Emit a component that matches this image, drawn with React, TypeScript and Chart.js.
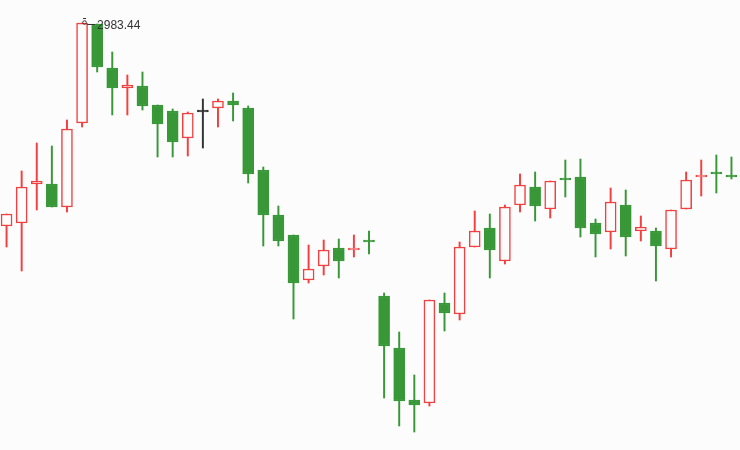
import React, { useEffect, useRef } from "react";
import { Chart, registerables } from "chart.js";

Chart.register(...registerables);

// OHLC values per trading day
const opens = [
  2821.04, 2823.44, 2854.64, 2854.64, 2836.24, 2903.44, 2982.64, 2947.44, 2931.44, 2933.04,
  2917.84, 2913.04, 2891.44, 2912.24, 2915.44, 2921.04, 2915.44, 2865.84, 2829.84, 2813.84,
  2777.84, 2789.04, 2803.44, 2801.84, 2808.34, 2765.04, 2723.44, 2681.84, 2679.44, 2759.44,
  2750.64, 2804.24, 2819.44, 2793.04, 2837.84, 2852.24, 2834.64, 2857.94, 2860.24, 2823.44,
  2816.24, 2837.84, 2817.04, 2817.04, 2802.64, 2834.64, 2860.24, 2862.74, 2860.34,
];
const closes = [
  2830.64, 2852.24, 2857.04, 2836.24, 2898.64, 2983.44, 2948.24, 2931.44, 2933.84, 2917.04,
  2902.64, 2888.24, 2911.44, 2912.24, 2921.04, 2917.84, 2862.64, 2829.84, 2809.04, 2775.44,
  2786.64, 2801.84, 2793.04, 2801.94, 2808.24, 2725.04, 2681.04, 2677.84, 2761.84, 2751.44,
  2804.24, 2817.04, 2801.84, 2836.24, 2853.84, 2837.04, 2857.04, 2857.84, 2819.44, 2814.64,
  2840.24, 2812.24, 2820.24, 2805.04, 2833.84, 2857.84, 2860.34, 2862.64, 2860.24,
];
const lows = [
  2804.24, 2785.04, 2833.84, 2836.24, 2832.24, 2900.24, 2944.24, 2909.84, 2909.84, 2913.84,
  2876.24, 2876.24, 2877.04, 2883.44, 2900.24, 2905.04, 2855.44, 2805.04, 2805.04, 2746.64,
  2775.44, 2781.84, 2779.44, 2796.24, 2798.64, 2683.44, 2661.04, 2656.24, 2677.04, 2737.04,
  2745.84, 2804.24, 2779.44, 2790.64, 2832.24, 2825.04, 2827.44, 2844.24, 2812.24, 2796.24,
  2802.64, 2797.04, 2809.04, 2777.04, 2796.24, 2834.64, 2845.04, 2847.44, 2858.64,
];
const highs = [
  2830.64, 2865.04, 2887.44, 2885.04, 2905.84, 2983.44, 2982.64, 2960.24, 2941.84, 2944.24,
  2917.84, 2914.64, 2912.24, 2922.64, 2922.64, 2927.44, 2917.04, 2868.24, 2837.04, 2813.84,
  2805.84, 2809.84, 2810.64, 2813.84, 2817.04, 2767.44, 2736.24, 2701.84, 2761.84, 2767.44,
  2808.24, 2833.04, 2830.64, 2837.84, 2862.64, 2864.24, 2857.04, 2873.84, 2874.64, 2826.64,
  2851.44, 2849.84, 2829.04, 2819.44, 2833.84, 2864.24, 2873.84, 2877.84, 2876.24,
];
const categories = opens.map((_, i) => "D" + (i + 1));

const Y_MIN = 2641.84;
const Y_MAX = 3001.84;

const UP = "#f23f3f";
const DOWN = "#389838";
const FLAT = "#333333";
const BG = "#fcfcfc";

function dir(i: number) {
  return closes[i] > opens[i] ? 1 : closes[i] < opens[i] ? -1 : 0;
}
function lineColor(i: number) {
  const d = dir(i);
  return d > 0 ? UP : d < 0 ? DOWN : FLAT;
}
function bodyFill(i: number) {
  const d = dir(i);
  return d > 0 ? BG : d < 0 ? DOWN : FLAT;
}

const maxLabelPlugin = {
  id: "maxLabel",
  afterDatasetsDraw(chart: any) {
    let idx = 0;
    highs.forEach((h, i) => {
      if (h > highs[idx]) idx = i;
    });
    const x = chart.scales.x.getPixelForValue(idx);
    const y = chart.scales.y.getPixelForValue(highs[idx]);
    const ctx = chart.ctx;
    ctx.save();
    ctx.strokeStyle = "#333";
    ctx.lineWidth = 1;
    ctx.beginPath();
    ctx.arc(x + 2.5, y - 0.5, 1.8, 0, Math.PI * 2);
    ctx.moveTo(x + 1, y - 4.5);
    ctx.lineTo(x + 4, y - 4.5);
    ctx.moveTo(x + 5, y + 1.5);
    ctx.lineTo(x + 13, y + 1.5);
    ctx.stroke();
    ctx.fillStyle = "#333";
    ctx.font = "12px 'Liberation Sans', Arial, sans-serif";
    ctx.textAlign = "left";
    ctx.textBaseline = "middle";
    ctx.fillText(highs[idx].toFixed(2), x + 15, y + 2.5);
    ctx.restore();
  },
};

export default function App() {
  const ref = useRef<HTMLCanvasElement | null>(null);
  useEffect(() => {
    if (!ref.current) return;
    const chart = new Chart(ref.current, {
      type: "bar",
      data: {
        labels: categories,
        datasets: [
          {
            label: "body",
            data: categories.map((_, i) => [opens[i], closes[i]]) as any,
            backgroundColor: categories.map((_, i) => bodyFill(i)),
            borderColor: categories.map((_, i) => lineColor(i)),
            borderWidth: 1.5,
            borderSkipped: false,
            barThickness: 11,
            minBarLength: 2,
            grouped: false,
            order: 1,
          },
          {
            label: "wick",
            data: categories.map((_, i) => [lows[i], highs[i]]) as any,
            backgroundColor: categories.map((_, i) => lineColor(i)),
            borderWidth: 0,
            barThickness: 1.3,
            grouped: false,
            order: 2,
          },
        ],
      },
      options: {
        animation: false,
        responsive: false,
        maintainAspectRatio: false,
        layout: { padding: 0 },
        plugins: {
          legend: { display: false },
          tooltip: { enabled: false },
        },
        scales: {
          x: { type: "category", offset: true, display: false, grid: { display: false } },
          y: { type: "linear", min: Y_MIN, max: Y_MAX, display: false, grid: { display: false } },
        },
      },
      plugins: [maxLabelPlugin],
    });
    return () => chart.destroy();
  }, []);

  return (
    <div style={{ position: "fixed", left: 0, top: 0, right: 0, bottom: 0, background: BG, overflow: "hidden" }}>
      <canvas
        ref={ref}
        width={740}
        height={450}
        style={{ position: "absolute", left: -1, top: 0, width: 740, height: 450 }}
      />
    </div>
  );
}
